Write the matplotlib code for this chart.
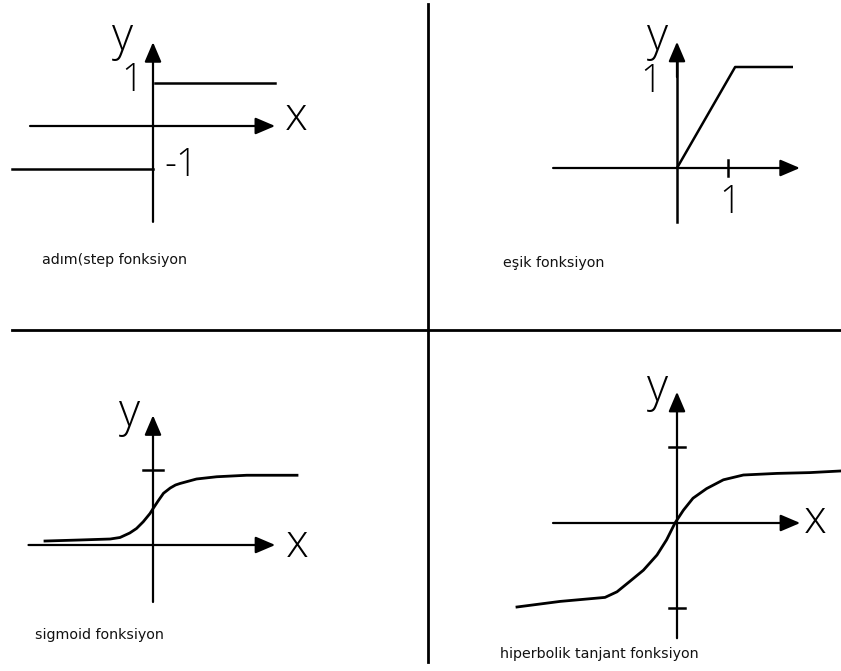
import matplotlib
matplotlib.use("Agg")
import matplotlib.pyplot as plt
from matplotlib.lines import Line2D

W, H = 841, 671

# ---------------- data (function values in each panel's own units) ----------------
step_upper_x = [0.05, 2.84]
step_upper_y = [1, 1]
step_lower_x = [-3.28, 0.0]
step_lower_y = [-1, -1]

ramp_x = [0.0, 1.14, 2.25]
ramp_y = [0.0, 1.0, 1.0]

sigmoid_x = [-1.44, -0.97, -0.57, -0.44, -0.31, -0.22, -0.13, -0.04, 0.004, 0.07, 0.14,
             0.23, 0.30, 0.36, 0.58, 0.85, 1.25, 1.92]
sigmoid_y = [0.053, 0.067, 0.08, 0.10, 0.16, 0.22, 0.31, 0.42, 0.49, 0.59, 0.69,
             0.76, 0.80, 0.82, 0.88, 0.91, 0.93, 0.93]

tanh_x = [-2.0, -1.46, -0.90, -0.75, -0.59, -0.42, -0.25, -0.13, -0.025, 0.08, 0.20,
          0.37, 0.58, 0.83, 1.25, 1.66, 2.04]
tanh_y = [-1.05, -0.98, -0.93, -0.86, -0.73, -0.59, -0.40, -0.21, 0.0, 0.16, 0.31,
          0.43, 0.54, 0.60, 0.62, 0.63, 0.65]

captions = ["adım(step fonksiyon", "eşik fonksiyon", "sigmoid fonksiyon", "hiperbolik tanjant fonksiyon"]

BIG = ['Open Sans', 'DejaVu Sans']

fig = plt.figure(figsize=(W / 100, H / 100), dpi=100)
fig.patch.set_facecolor('white')


def panel(ox, oy, sx, sy):
    """Axes over the whole figure whose data origin sits at pixel (ox, oy)."""
    ax = fig.add_axes([0, 0, 1, 1])
    ax.set_xlim(-ox / sx, (W - ox) / sx)
    ax.set_ylim(-(H - oy) / sy, oy / sy)
    ax.axis('off')
    ax.patch.set_alpha(0)
    return ax


def axis_arrow(ax, x0, y0, x1, y1):
    ax.annotate('', xy=(x1, y1), xytext=(x0, y0),
                arrowprops=dict(arrowstyle='-|>,head_length=0.75,head_width=0.32',
                                mutation_scale=16, lw=1.6, color='black',
                                shrinkA=0, shrinkB=0))


def big(ax, x, y, s, size=33):
    ax.text(x, y, s, fontsize=size, family=BIG, fontweight=300,
            ha='center', va='center', color='black')


def caption(ax, x, y, s):
    ax.text(x, y, s, fontsize=10.3, family='DejaVu Sans', ha='left', va='center', color='#111111')


LW = 1.8

# ---------------- panel 1 : step ----------------
a1 = panel(153, 126, 43, 43)
axis_arrow(a1, -2.86, 0, 2.84, 0)
axis_arrow(a1, 0, -2.23, 0, 1.95)
a1.plot(step_upper_x, step_upper_y, color='black', lw=LW)
a1.plot(step_lower_x, step_lower_y, color='black', lw=LW)
big(a1, -0.70, 2.05, 'y')
big(a1, -0.49, 1.05, '1', 27)
big(a1, 0.65, -0.93, '-1', 27)
big(a1, 3.33, 0.18, 'x')
caption(a1, -2.58, -3.12, captions[0])

# ---------------- panel 2 : threshold / ramp ----------------
a2 = panel(677, 168, 51, 101)
axis_arrow(a2, -2.43, 0, 2.41, 0)
a2.plot([0, 0], [-0.53, 1.15], color='black', lw=LW)
axis_arrow(a2, 0, 0.9, 0, 1.25)
a2.plot([1, 1], [-0.08, 0.08], color='black', lw=LW)
a2.plot(ramp_x, ramp_y, color='black', lw=LW)
big(a2, -0.39, 1.29, 'y')
big(a2, -0.51, 0.85, '1', 27)
big(a2, 1.04, -0.34, '1', 27)
caption(a2, -3.41, -0.94, captions[1])

# ---------------- panel 3 : sigmoid ----------------
a3 = panel(153, 545, 75, 75)
axis_arrow(a3, -1.66, 0, 1.63, 0)
axis_arrow(a3, 0, -0.76, 0, 1.73)
a3.plot([-0.13, 0.13], [1, 1], color='black', lw=LW)
a3.plot(sigmoid_x, sigmoid_y, color='black', lw=2.0, solid_joinstyle='round')
big(a3, -0.31, 1.75, 'y')
big(a3, 1.92, 0.0, 'x')
caption(a3, -1.57, -1.2, captions[2])

# ---------------- panel 4 : tanh ----------------
a4 = panel(677, 523, 80, 80)
axis_arrow(a4, -1.55, 0, 1.54, 0)
axis_arrow(a4, 0, -1.44, 0, 1.64)
a4.plot([-0.1, 0.1], [0.95, 0.95], color='black', lw=LW)
a4.plot([-0.1, 0.1], [-1.06, -1.06], color='black', lw=LW)
a4.plot(tanh_x, tanh_y, color='black', lw=2.0, solid_joinstyle='round')
big(a4, -0.24, 1.67, 'y')
big(a4, 1.73, 0.02, 'x')
caption(a4, -2.21, -1.64, captions[3])

# ---------------- quadrant dividers ----------------
fig.add_artist(Line2D([428 / W, 428 / W], [1 - 4 / H, 1 - 662 / H], color='black', lw=2.0))
fig.add_artist(Line2D([12 / W, 1.0], [1 - 330 / H, 1 - 330 / H], color='black', lw=2.0))

fig.savefig('out.png', dpi=100, facecolor='white')
